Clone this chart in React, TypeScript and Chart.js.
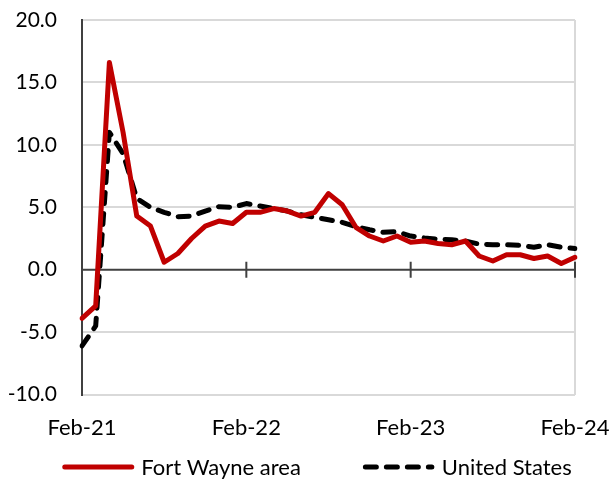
import React, { useEffect, useRef } from "react";
import { Chart, registerables } from "chart.js";

Chart.register(...registerables);

const months: string[] = [
  "Feb-21", "Mar-21", "Apr-21", "May-21", "Jun-21", "Jul-21", "Aug-21", "Sep-21", "Oct-21", "Nov-21", "Dec-21", "Jan-22",
  "Feb-22", "Mar-22", "Apr-22", "May-22", "Jun-22", "Jul-22", "Aug-22", "Sep-22", "Oct-22", "Nov-22", "Dec-22", "Jan-23",
  "Feb-23", "Mar-23", "Apr-23", "May-23", "Jun-23", "Jul-23", "Aug-23", "Sep-23", "Oct-23", "Nov-23", "Dec-23", "Jan-24",
  "Feb-24",
];

const shownLabels: string[] = ["Feb-21", "Feb-22", "Feb-23", "Feb-24"];

const fortWayne: number[] = [
  -3.9, -2.9, 16.6, 11.0, 4.3, 3.5, 0.6, 1.3, 2.5, 3.5, 3.9, 3.7,
  4.6, 4.6, 4.9, 4.7, 4.3, 4.6, 6.1, 5.2, 3.4, 2.7, 2.3, 2.7,
  2.2, 2.3, 2.1, 2.0, 2.3, 1.1, 0.7, 1.2, 1.2, 0.9, 1.1, 0.5,
  1.0,
];

const unitedStates: number[] = [
  -6.1, -4.5, 11.0, 9.3, 5.7, 5.0, 4.6, 4.25, 4.3, 4.7, 5.05, 5.0,
  5.3, 5.1, 4.9, 4.7, 4.4, 4.2, 4.0, 3.8, 3.45, 3.2, 3.0, 3.05,
  2.7, 2.55, 2.45, 2.4, 2.3, 2.05, 2.0, 2.0, 1.95, 1.8, 2.0, 1.8,
  1.7,
];

const seriesNames: string[] = ["Fort Wayne area", "United States"];

const FONT = "Lato, 'Open Sans', sans-serif";
const RED = "#c00000";
const DASH = [11, 10];
const CLEAR = "rgba(0,0,0,0)";

export default function App() {
  const canvasRef = useRef<HTMLCanvasElement | null>(null);

  useEffect(() => {
    document.body.style.margin = "0";
    const canvas = canvasRef.current;
    if (!canvas) return;

    const axisTicksPlugin = {
      id: "axisTicks",
      beforeDatasetsDraw(chart: any) {
        const ctx = chart.ctx;
        const x = chart.scales.x;
        const y = chart.scales.y;
        const y0 = y.getPixelForValue(0);
        ctx.save();
        ctx.strokeStyle = "#404040";
        ctx.lineWidth = 2;
        ctx.beginPath();
        ctx.moveTo(chart.chartArea.left, y0);
        ctx.lineTo(chart.chartArea.right, y0);
        months.forEach((m, i) => {
          if (shownLabels.includes(m)) {
            const px = x.getPixelForValue(i);
            ctx.moveTo(px, y0 - 8);
            ctx.lineTo(px, y0 + 8);
          }
        });
        ctx.stroke();
        ctx.restore();
      },
    };

    const legendPlugin = {
      id: "customLegend",
      afterDraw(chart: any) {
        const ctx = chart.ctx;
        ctx.save();
        ctx.font = `22px ${FONT}`;
        ctx.textBaseline = "middle";
        ctx.fillStyle = "#000";
        const sampleW = 72;
        const textGap = 7;
        const itemGap = 62;
        const w1 = ctx.measureText(seriesNames[0]).width;
        const w2 = ctx.measureText(seriesNames[1]).width;
        const total = sampleW + textGap + w1 + itemGap + sampleW + textGap + w2;
        let x = (chart.width - total) / 2 + 12;
        const yc = 467;
        ctx.lineWidth = 5;
        ctx.lineCap = "round";
        ctx.strokeStyle = RED;
        ctx.beginPath();
        ctx.moveTo(x + 2.5, yc);
        ctx.lineTo(x + sampleW - 2.5, yc);
        ctx.stroke();
        x += sampleW + textGap;
        ctx.fillText(seriesNames[0], x, yc + 1);
        x += w1 + itemGap;
        ctx.strokeStyle = "#000";
        ctx.setLineDash(DASH);
        ctx.beginPath();
        ctx.moveTo(x + 2.5, yc);
        ctx.lineTo(x + 69, yc);
        ctx.stroke();
        ctx.setLineDash([]);
        x += sampleW + textGap;
        ctx.fillText(seriesNames[1], x, yc + 1);
        ctx.restore();
      },
    };

    const chart = new Chart(canvas, {
      type: "line",
      data: {
        labels: months,
        datasets: [
          {
            label: seriesNames[0],
            data: fortWayne,
            borderColor: RED,
            backgroundColor: RED,
            borderWidth: 5,
            pointRadius: 0,
            tension: 0,
            borderJoinStyle: "round",
            borderCapStyle: "round",
          },
          {
            label: seriesNames[1],
            data: unitedStates,
            borderColor: "#000",
            backgroundColor: "#000",
            borderWidth: 5,
            borderDash: DASH,
            pointRadius: 0,
            tension: 0,
            borderJoinStyle: "round",
            borderCapStyle: "round",
          },
        ],
      },
      options: {
        responsive: false,
        animation: false,
        devicePixelRatio: 1,
        layout: { padding: { left: 0, right: 35, top: 20, bottom: 41 } },
        plugins: {
          legend: { display: false },
          tooltip: { enabled: false },
        },
        scales: {
          x: {
            grid: {
              display: true,
              drawTicks: true,
              tickLength: 20,
              tickColor: CLEAR,
              lineWidth: 2,
              color: (c: any) => (c.index === months.length - 1 ? "#d9d9d9" : CLEAR),
            },
            border: { display: false },
            ticks: {
              autoSkip: false,
              maxRotation: 0,
              minRotation: 0,
              padding: 0,
              color: "#000",
              font: { family: FONT, size: 22 },
              callback: (_v: any, i: number) => (shownLabels.includes(months[i]) ? months[i] : ""),
            },
          },
          y: {
            min: -10,
            max: 20,
            afterFit: (s: any) => {
              s.width = 82;
            },
            grid: {
              drawTicks: true,
              tickLength: 22,
              tickColor: CLEAR,
              lineWidth: 2,
              color: (c: any) => (c.tick && c.tick.value === 0 ? CLEAR : "#d9d9d9"),
            },
            border: { display: true, color: "#404040", width: 2 },
            ticks: {
              stepSize: 5,
              padding: 3,
              color: "#000",
              font: { family: FONT, size: 21 },
              callback: (v: any) => Number(v).toFixed(1),
            },
          },
        },
      },
      plugins: [axisTicksPlugin, legendPlugin],
    });

    return () => chart.destroy();
  }, []);

  return (
    <div style={{ width: 610, height: 482 }}>
      <canvas ref={canvasRef} width={610} height={482} />
    </div>
  );
}
